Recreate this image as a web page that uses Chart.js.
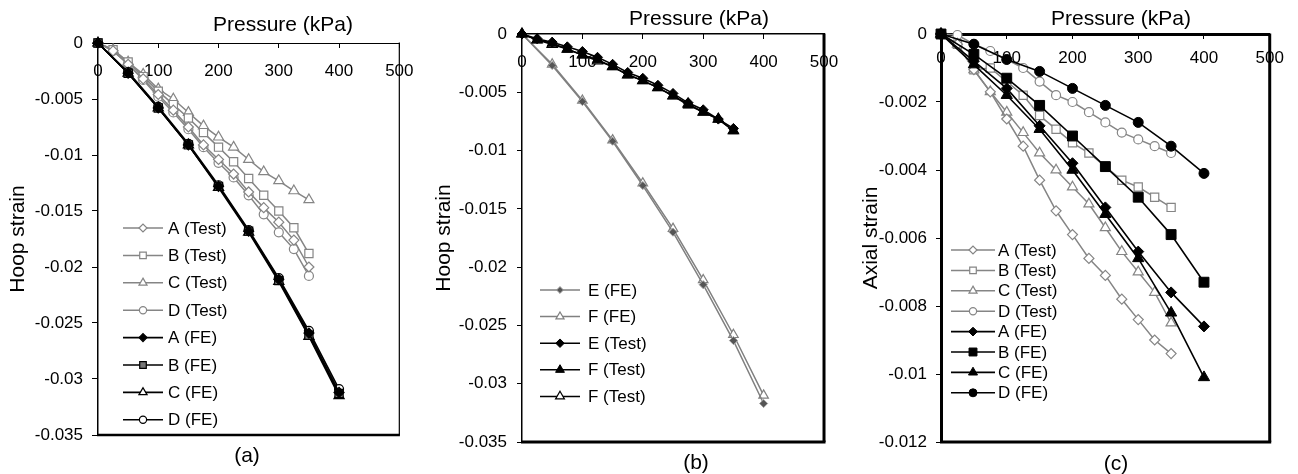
<!DOCTYPE html>
<html><head><meta charset="utf-8">
<script src="https://cdn.jsdelivr.net/npm/chart.js@4.4.1/dist/chart.umd.min.js"></script>
<style>
html,body{margin:0;padding:0;background:#fff;}
#wrap{position:relative;width:1298px;height:474px;overflow:hidden;font-family:"Liberation Sans",Arial,sans-serif;background:#fff;}
.pan{position:absolute;top:0;height:474px;}
.pan canvas{display:block;}
.lbl{position:absolute;transform:translate(-50%,-50%);white-space:nowrap;font-size:21px;line-height:1;color:#000;}
</style></head>
<body><div id="wrap">
<div class="pan" style="left:0px;width:432px"><canvas id="ca" width="432" height="474"></canvas></div>
<div class="pan" style="left:432px;width:424px"><canvas id="cb" width="424" height="474"></canvas></div>
<div class="pan" style="left:856px;width:442px"><canvas id="cc" width="442" height="474"></canvas></div>
</div>
<script>
// ---------- data ----------
const pressureTest = [0, 25, 50, 75, 100, 125, 150, 175, 200, 225, 250, 275, 300, 325, 350];
const pressureFE = [0, 50, 100, 150, 200, 250, 300, 350, 400];
const xTickLabels = ['0', '100', '200', '300', '400', '500'];
const yTickLabelsHoop = ['0', '-0.005', '-0.01', '-0.015', '-0.02', '-0.025', '-0.03', '-0.035'];
const yTickLabelsAxial = ['0', '-0.002', '-0.004', '-0.006', '-0.008', '-0.01', '-0.012'];
const xTitle = 'Pressure (kPa)';
const yTitleA = 'Hoop strain';
const yTitleB = 'Hoop strain';
const yTitleC = 'Axial strain';
const panelLetters = ['(a)', '(b)', '(c)'];

// panel (a) hoop strain
const aLabels = ['A (Test)', 'B (Test)', 'C (Test)', 'D (Test)', 'A (FE)', 'B (FE)', 'C (FE)', 'D (FE)'];
const aTestA = [0, -0.0007, -0.0019, -0.0032, -0.0046, -0.0060, -0.0075, -0.0091, -0.0104, -0.0117, -0.0133, -0.0147, -0.0160, -0.0176, -0.0200];
const aTestB = [0, -0.0006, -0.0017, -0.0030, -0.0043, -0.0055, -0.0067, -0.0080, -0.0093, -0.0106, -0.0121, -0.0136, -0.0150, -0.0165, -0.0188];
const aTestC = [0, -0.0006, -0.0017, -0.0028, -0.0041, -0.0050, -0.0062, -0.0074, -0.0084, -0.0093, -0.0104, -0.0115, -0.0123, -0.0132, -0.0140];
const aTestD = [0, -0.0007, -0.0019, -0.0033, -0.0048, -0.0062, -0.0077, -0.0093, -0.0107, -0.0120, -0.0136, -0.0153, -0.0169, -0.0184, -0.0208];
const aFEA = [0, -0.0027, -0.0058, -0.0091, -0.0128, -0.0168, -0.0211, -0.0259, -0.0312];
const aFEB = [0, -0.0027, -0.0058, -0.0091, -0.0128, -0.0168, -0.0212, -0.0261, -0.0313];
const aFEC = [0, -0.0027, -0.0058, -0.0091, -0.0129, -0.0169, -0.0213, -0.0262, -0.0315];
const aFED = [0, -0.0026, -0.0057, -0.0090, -0.0127, -0.0167, -0.0210, -0.0257, -0.0309];

// panel (b) hoop strain
const bLabels = ['E (FE)', 'F (FE)', 'E (Test)', 'F (Test)', 'F (Test)'];
const bFEE = [0, -0.0027, -0.0058, -0.0092, -0.0130, -0.0170, -0.0215, -0.0263, -0.0317];
const bFEF = [0, -0.0026, -0.0057, -0.0091, -0.0128, -0.0167, -0.0211, -0.0258, -0.0310];
const bTestE = [0, -0.0004, -0.0007, -0.0011, -0.0015, -0.0020, -0.0026, -0.0033, -0.0038, -0.0044, -0.0051, -0.0059, -0.0065, -0.0073, -0.0081];
const bTestF = [0, -0.0005, -0.0008, -0.0013, -0.0018, -0.0022, -0.0028, -0.0035, -0.0040, -0.0046, -0.0053, -0.0061, -0.0067, -0.0073, -0.0083];
const bTestF2 = [0, -0.0005, -0.0009, -0.0013, -0.0018, -0.0023, -0.0028, -0.0035, -0.0040, -0.0046, -0.0053, -0.0060, -0.0067, -0.0073, -0.0083];

// panel (c) axial strain
const cLabels = ['A (Test)', 'B (Test)', 'C (Test)', 'D (Test)', 'A (FE)', 'B (FE)', 'C (FE)', 'D (FE)'];
const cTestA = [0, -0.0003, -0.00105, -0.0017, -0.0025, -0.0033, -0.0043, -0.0052, -0.0059, -0.0066, -0.0071, -0.0078, -0.0084, -0.0090, -0.0094];
const cTestB = [0, -0.0003, -0.00105, -0.0010, -0.0014, -0.0018, -0.0024, -0.0028, -0.0032, -0.0035, -0.0039, -0.0043, -0.0045, -0.0048, -0.0051];
const cTestC = [0, -0.0003, -0.00105, -0.0017, -0.0023, -0.0029, -0.0035, -0.0040, -0.0045, -0.0050, -0.0057, -0.0064, -0.0070, -0.0076, -0.0085];
const cTestD = [0, -0.00003, -0.0003, -0.0005, -0.00075, -0.0010, -0.0014, -0.0018, -0.0020, -0.0023, -0.0026, -0.0029, -0.0031, -0.0033, -0.0035];
const cFEA = [0, -0.0008, -0.0016, -0.0027, -0.0038, -0.0051, -0.0064, -0.0076, -0.0086];
const cFEB = [0, -0.0006, -0.0013, -0.0021, -0.0030, -0.0039, -0.0048, -0.0059, -0.0073];
const cFEC = [0, -0.0009, -0.0018, -0.0028, -0.0040, -0.0053, -0.0066, -0.0082, -0.0101];
const cFED = [0, -0.0003, -0.00075, -0.0011, -0.0016, -0.0021, -0.0026, -0.0033, -0.0041];

// ---------- styling / helpers ----------
const FONT = '"Liberation Sans", Arial, sans-serif';
Chart.defaults.font.family = FONT;
Chart.defaults.color = '#000';
const GRAY = '#858585';
const TICK_FONT = 17;

function series(label, xs, ys, style) {
  return Object.assign({
    label: label, type: 'line', fill: false, tension: 0, clip: false,
    data: xs.map((x, i) => ({x: x, y: ys[i]}))
  }, style);
}
function sty(line, lw, shape, r, bg, bc, bw, order) {
  return {borderColor: line, borderWidth: lw, pointStyle: shape, pointRadius: r,
    pointBackgroundColor: bg, pointBorderColor: bc, pointBorderWidth: bw, order: order};
}
function tickFrom(list) {
  return function (v) {
    const hit = list.find(s => Math.abs(parseFloat(s) - v) < 1e-9);
    return hit === undefined ? '' : hit;
  };
}
function drawMarker(ctx, style, r, x, y, bw) {
  if (Chart.helpers && Chart.helpers.drawPoint) {
    Chart.helpers.drawPoint(ctx, {pointStyle: style, radius: r, borderWidth: bw, rotation: 0}, x, y);
    return;
  }
  ctx.beginPath();
  if (style === 'circle') ctx.arc(x, y, r, 0, Math.PI * 2);
  else if (style === 'rect') { const s = r * Math.SQRT1_2; ctx.rect(x - s, y - s, 2 * s, 2 * s); }
  else if (style === 'rectRot') { ctx.moveTo(x - r, y); ctx.lineTo(x, y - r); ctx.lineTo(x + r, y); ctx.lineTo(x, y + r); ctx.closePath(); }
  else if (style === 'triangle') { ctx.moveTo(x, y - r); ctx.lineTo(x + r * 0.866, y + r / 2); ctx.lineTo(x - r * 0.866, y + r / 2); ctx.closePath(); }
  ctx.fill(); if (bw > 0) ctx.stroke();
}

const insideLegend = {
  id: 'insideLegend',
  afterDatasetsDraw(chart, args, o) {
    const ctx = chart.ctx;
    ctx.save();
    chart.data.datasets.forEach((d, i) => {
      const y = o.y + i * o.dy;
      ctx.strokeStyle = d.borderColor; ctx.lineWidth = d.borderWidth;
      ctx.beginPath(); ctx.moveTo(o.x, y); ctx.lineTo(o.x + o.len, y); ctx.stroke();
      ctx.fillStyle = d.pointBackgroundColor; ctx.strokeStyle = d.pointBorderColor; ctx.lineWidth = d.pointBorderWidth;
      drawMarker(ctx, d.pointStyle, d.pointRadius * o.scale, o.x + o.len / 2, y, d.pointBorderWidth);
      ctx.fillStyle = '#000'; ctx.font = o.font + 'px ' + FONT;
      ctx.textAlign = 'left'; ctx.textBaseline = 'middle';
      ctx.fillText(d.label, o.x + o.len + o.gap, y + 1);
    });
    ctx.restore();
  }
};
const frame = {
  id: 'frame',
  beforeDatasetsDraw(chart, args, o) {
    const {left, top, right, bottom} = chart.chartArea;
    const ctx = chart.ctx;
    ctx.save(); ctx.strokeStyle = '#000';
    ctx.lineWidth = o.right; ctx.beginPath(); ctx.moveTo(right, top - 0.5); ctx.lineTo(right, bottom); ctx.stroke();
    ctx.lineWidth = o.bottom; ctx.beginPath(); ctx.moveTo(left - 1, bottom); ctx.lineTo(right + o.right / 2, bottom); ctx.stroke();
    ctx.restore();
  }
};

function makeChart(id, datasets, p) {
  new Chart(document.getElementById(id), {
    type: 'line',
    data: {datasets: datasets},
    plugins: [frame, insideLegend],
    options: {
      responsive: false, animation: false, events: [],
      layout: {padding: {left: 0, top: 0, right: p.padR, bottom: p.padB}},
      plugins: {legend: {display: false}, tooltip: {enabled: false},
        frame: p.frame, insideLegend: p.legend},
      scales: {
        x: {type: 'linear', position: 'top', min: 0, max: 500,
          ticks: {stepSize: 100, color: '#000', font: {size: TICK_FONT}, padding: p.xPad, mirror: true, maxRotation: 0,
            autoSkip: false, callback: tickFrom(xTickLabels)},
          grid: {drawOnChartArea: false, drawTicks: true, tickLength: -5, color: '#000', lineWidth: 1},
          border: {display: true, color: '#000', width: p.topW},
          afterFit(s) { s.height = p.top; }
        },
        y: {type: 'linear', position: 'left', min: p.ymin, max: 0,
          ticks: {stepSize: p.ystep, color: '#000', font: {size: TICK_FONT}, padding: p.yPad,
            autoSkip: false, callback: tickFrom(p.yTicks)},
          grid: {drawOnChartArea: false, drawTicks: true, tickLength: p.yTick, color: '#000', lineWidth: 1},
          border: {display: true, color: '#000', width: p.leftW},
          title: {display: true, text: p.yTitle, color: '#000', font: {size: 21}, padding: {top: p.yTitlePad, bottom: 0}},
          afterFit(s) { s.width = p.left; }
        }
      }
    }
  });
}

// ---------- panel (a) ----------
makeChart('ca', [
  series(aLabels[0], pressureTest, aTestA, sty(GRAY, 1.5, 'rectRot', 5, '#fff', GRAY, 1.2, 2)),
  series(aLabels[1], pressureTest, aTestB, sty(GRAY, 1.5, 'rect', 5.8, '#fff', GRAY, 1.2, 2)),
  series(aLabels[2], pressureTest, aTestC, sty(GRAY, 1.5, 'triangle', 5.8, '#fff', GRAY, 1.2, 2)),
  series(aLabels[3], pressureTest, aTestD, sty(GRAY, 1.5, 'circle', 4.5, '#fff', GRAY, 1.2, 2)),
  series(aLabels[4], pressureFE, aFEA, sty('#000', 1.6, 'rectRot', 5, '#000', '#000', 1.2, 1)),
  series(aLabels[5], pressureFE, aFEB, sty('#000', 1.6, 'rect', 5.8, '#777', '#000', 1.2, 1)),
  series(aLabels[6], pressureFE, aFEC, sty('#000', 1.6, 'triangle', 5.8, '#fff', '#000', 1.3, 1)),
  series(aLabels[7], pressureFE, aFED, sty('#000', 1.6, 'circle', 4.5, '#fff', '#000', 1.2, 1))
], {padR: 19, padB: 39, top: 43, left: 98, xPad: 18.5, yPad: 9, yTick: 6, ymin: -0.035, ystep: 0.005,
  yTicks: yTickLabelsHoop, yTitle: yTitleA, yTitlePad: 6, topW: 1, leftW: 1.5,
  frame: {right: 1.2, bottom: 2.5},
  legend: {x: 123, len: 40, gap: 5, y: 228, dy: 27.4, font: 17, scale: 0.8}});

// ---------- panel (b) ----------
makeChart('cb', [
  series(bLabels[0], pressureFE, bFEE, sty('#808080', 1.5, 'rectRot', 4, '#555', '#999', 1, 2)),
  series(bLabels[1], pressureFE, bFEF, sty('#808080', 1.5, 'triangle', 5.5, '#fff', '#808080', 1.2, 2)),
  series(bLabels[2], pressureTest, bTestE, sty('#000', 1.5, 'rectRot', 5, '#000', '#000', 1, 1)),
  series(bLabels[3], pressureTest, bTestF, sty('#000', 1.5, 'triangle', 6, '#000', '#000', 1, 1)),
  series(bLabels[4], pressureTest, bTestF2, sty('#000', 1.5, 'triangle', 6, '#fff', '#000', 1.2, 1))
], {padR: 9, padB: 32, top: 34, left: 90, xPad: 17.8, yPad: 10, yTick: 5, ymin: -0.035, ystep: 0.005,
  yTicks: yTickLabelsHoop, yTitle: yTitleB, yTitlePad: 0, topW: 1.5, leftW: 1.5,
  frame: {right: 3, bottom: 3},
  legend: {x: 108, len: 40, gap: 8, y: 290, dy: 26.6, font: 17, scale: 0.85}});

// ---------- panel (c) ----------
makeChart('cc', [
  series(cLabels[0], pressureTest, cTestA, sty(GRAY, 1.5, 'rectRot', 5, '#fff', GRAY, 1.2, 2)),
  series(cLabels[1], pressureTest, cTestB, sty(GRAY, 1.5, 'rect', 5.8, '#fff', GRAY, 1.2, 2)),
  series(cLabels[2], pressureTest, cTestC, sty(GRAY, 1.5, 'triangle', 5.8, '#fff', GRAY, 1.2, 2)),
  series(cLabels[3], pressureTest, cTestD, sty(GRAY, 1.5, 'circle', 4.5, '#fff', GRAY, 1.2, 2)),
  series(cLabels[4], pressureFE, cFEA, sty('#000', 1.6, 'rectRot', 5.5, '#000', '#000', 1, 1)),
  series(cLabels[5], pressureFE, cFEB, sty('#000', 1.6, 'rect', 7, '#000', '#000', 1, 1)),
  series(cLabels[6], pressureFE, cFEC, sty('#000', 1.6, 'triangle', 6.5, '#000', '#000', 1, 1)),
  series(cLabels[7], pressureFE, cFED, sty('#000', 1.6, 'circle', 5, '#000', '#000', 1, 1))
], {padR: 23, padB: 32, top: 34, left: 85, xPad: 14.1, yPad: 9, yTick: 5, ymin: -0.012, ystep: 0.002,
  yTicks: yTickLabelsAxial, yTitle: yTitleC, yTitlePad: 2.4, topW: 3, leftW: 3,
  frame: {right: 3, bottom: 3},
  legend: {x: 95, len: 44, gap: 3, y: 250, dy: 20.4, font: 17, scale: 0.8}});

// ---------- text overlays (axis titles on top, panel letters) ----------
const wrap = document.getElementById('wrap');
const overlayText = [
  [xTitle, 283, 23], [xTitle, 699, 17], [xTitle, 1121, 17],
  [panelLetters[0], 247, 454], [panelLetters[1], 696, 461], [panelLetters[2], 1116, 462]
];
overlayText.forEach(([t, x, y]) => {
  const d = document.createElement('div');
  d.className = 'lbl'; d.textContent = t;
  d.style.left = x + 'px'; d.style.top = y + 'px';
  wrap.appendChild(d);
});
</script>
</body></html>
